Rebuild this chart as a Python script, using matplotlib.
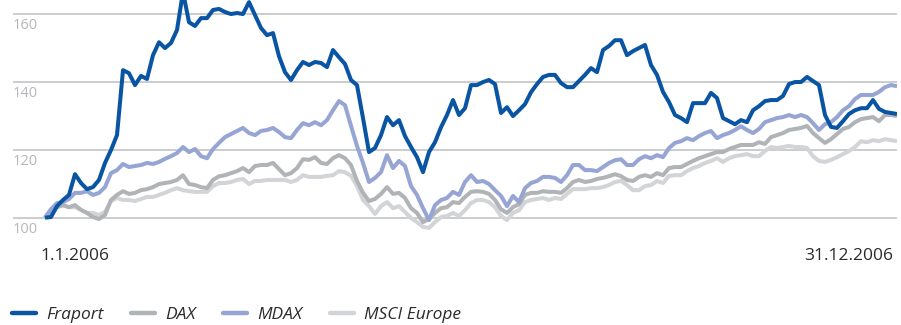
import numpy as np
import matplotlib
matplotlib.use("Agg")
import matplotlib.pyplot as plt
from matplotlib.lines import Line2D

plt.rcParams['font.family'] = ['Open Sans', 'DejaVu Sans']

# Index values (1.1.2006 = 100), sampled at regular intervals through 2006
fraport = [
    100.0, 100.2, 103.4, 105.2, 106.7, 112.8, 110.2, 108.4, 109.0, 111.1,
    116.1, 119.9, 124.3, 143.4, 142.5, 139.0, 141.7, 140.8, 147.8, 151.6,
    149.9, 151.4, 155.2, 166.4, 157.5, 156.4, 158.7, 158.7, 161.1, 161.4,
    160.5, 159.9, 160.2, 159.9, 163.4, 159.6, 155.8, 153.7, 154.3, 147.5,
    142.8, 140.5, 143.4, 145.8, 144.9, 145.8, 145.5, 144.3, 149.3, 147.2,
    145.2, 140.5, 139.0, 129.3, 119.3, 120.5, 124.3, 129.6, 127.2, 128.7,
    124.0, 120.8, 117.8, 113.4, 119.3, 122.2, 126.6, 130.2, 134.6, 130.2,
    132.2, 139.0, 139.0, 139.9, 140.5, 139.3, 130.8, 132.5, 129.9, 131.6,
    133.4, 136.9, 139.3, 141.4, 142.0, 142.0, 139.6, 138.4, 138.4, 140.2,
    142.0, 144.0, 142.8, 149.3, 150.5, 152.2, 152.2, 147.8, 149.0, 149.9,
    150.8, 144.9, 142.0, 137.0, 134.0, 130.2, 129.3, 128.1, 133.7, 133.7,
    133.7, 136.7, 135.2, 129.3, 128.4, 127.5, 128.7, 128.1, 131.6, 132.8,
    134.3, 134.6, 134.6, 135.8, 139.3, 139.9, 139.9, 141.4, 140.2, 139.0,
    130.2, 126.7, 126.4, 128.4, 130.5, 131.6, 132.2, 132.2, 134.6, 132.0,
    131.1, 130.8, 130.5,
]
dax = [
    100.0, 102.3, 103.1, 103.7, 103.1, 103.7, 102.3, 101.4, 100.2, 99.6,
    100.8, 105.2, 106.7, 107.8, 107.0, 107.3, 108.1, 108.4, 109.0, 109.9,
    110.2, 110.5, 111.1, 112.5, 109.9, 109.6, 109.0, 108.7, 111.1, 112.2,
    112.5, 113.1, 113.7, 114.6, 113.4, 115.2, 115.5, 115.5, 116.1, 114.3,
    112.5, 113.1, 114.6, 117.2, 117.0, 117.8, 116.1, 115.8, 117.5, 118.4,
    117.5, 115.5, 110.8, 107.3, 104.9, 105.5, 107.0, 109.0, 107.0, 107.3,
    105.8, 102.8, 101.4, 98.7, 99.6, 101.4, 102.8, 103.1, 104.6, 104.3,
    106.1, 107.6, 107.8, 107.6, 107.0, 105.2, 102.5, 101.4, 103.1, 104.0,
    106.7, 107.3, 107.3, 107.8, 107.6, 107.6, 107.3, 108.7, 110.5, 111.1,
    110.5, 110.8, 111.4, 111.7, 112.2, 112.8, 112.2, 111.1, 110.8, 112.0,
    112.5, 112.0, 113.1, 112.5, 114.6, 114.9, 114.9, 115.8, 116.7, 117.5,
    118.1, 118.7, 119.3, 119.3, 120.2, 120.8, 121.4, 121.4, 121.4, 122.2,
    121.7, 123.7, 124.3, 124.9, 125.8, 126.1, 126.4, 127.0, 124.9, 123.4,
    122.0, 123.1, 124.6, 126.1, 126.7, 128.1, 129.0, 129.3, 129.6, 128.4,
    130.2, 130.2, 129.9,
]
mdax = [
    100.0, 102.5, 104.3, 104.6, 105.5, 107.3, 107.3, 107.8, 106.7, 107.3,
    109.0, 113.1, 114.0, 115.8, 114.9, 115.2, 115.5, 116.1, 115.8, 116.4,
    117.3, 118.1, 119.0, 120.8, 119.3, 120.2, 118.1, 117.5, 120.2, 122.0,
    123.7, 124.6, 125.5, 126.4, 124.9, 124.3, 125.5, 125.8, 126.4, 125.2,
    123.7, 123.4, 125.8, 127.8, 127.2, 128.1, 127.2, 128.7, 131.6, 134.3,
    133.1, 127.0, 121.1, 116.1, 110.5, 111.7, 113.4, 118.4, 114.6, 116.7,
    115.2, 109.3, 106.7, 102.8, 99.3, 103.7, 105.2, 105.8, 107.6, 106.7,
    110.5, 112.5, 110.5, 110.8, 109.9, 108.1, 106.4, 103.4, 106.4, 104.6,
    108.7, 110.2, 110.8, 112.0, 112.0, 111.7, 110.5, 112.5, 115.5, 115.5,
    114.0, 114.0, 113.7, 114.9, 116.1, 116.9, 117.2, 115.5, 115.5, 117.2,
    118.1, 117.5, 118.4, 117.8, 120.5, 122.0, 122.5, 123.4, 122.8, 124.0,
    124.9, 125.5, 123.4, 124.3, 124.9, 125.8, 126.9, 125.8, 124.9, 126.1,
    128.1, 128.7, 129.3, 129.6, 130.2, 129.6, 130.2, 129.6, 127.8, 125.8,
    127.5, 128.1, 129.6, 131.6, 132.8, 134.9, 136.1, 136.1, 136.1, 137.0,
    138.4, 139.0, 138.7,
]
msci_europe = [
    100.0, 101.7, 103.1, 103.7, 103.1, 103.1, 102.3, 101.4, 101.4, 100.8,
    101.7, 104.9, 105.8, 105.2, 105.2, 104.9, 105.5, 106.1, 106.1, 106.7,
    107.3, 108.1, 108.7, 108.1, 107.8, 107.6, 107.6, 107.6, 109.3, 110.2,
    110.2, 110.5, 111.1, 111.4, 109.9, 110.8, 110.8, 111.1, 111.1, 111.1,
    111.1, 110.5, 111.1, 112.5, 112.0, 112.0, 112.0, 112.3, 112.5, 113.7,
    113.4, 112.3, 109.3, 105.2, 103.4, 101.1, 103.4, 104.6, 102.8, 103.4,
    101.7, 99.9, 98.7, 97.3, 97.0, 98.7, 100.2, 100.5, 101.4, 100.5,
    102.2, 104.3, 105.2, 105.2, 104.6, 103.1, 100.5, 99.3, 101.4, 102.2,
    104.6, 105.2, 105.5, 105.8, 105.2, 105.8, 105.5, 107.0, 108.4, 108.4,
    108.4, 108.7, 108.7, 109.0, 109.6, 110.5, 110.8, 109.6, 108.1, 108.1,
    109.3, 109.6, 110.8, 110.2, 112.3, 112.5, 112.5, 113.7, 114.6, 115.2,
    116.1, 116.7, 117.5, 116.4, 117.5, 118.1, 118.4, 118.7, 118.1, 118.1,
    119.6, 120.8, 120.5, 120.8, 121.1, 120.8, 120.8, 120.5, 118.1, 116.7,
    116.4, 117.0, 117.8, 118.7, 119.6, 120.8, 122.5, 122.2, 122.8, 122.5,
    123.1, 122.8, 122.5,
]

series_names = ['Fraport', 'DAX', 'MDAX', 'MSCI Europe']
series_colors = ['#0a55a3', '#b1b4b7', '#97a5d5', '#d2d4d7']
grid_values = [100, 120, 140, 160]
start_label = '1.1.2006'
end_label = '31.12.2006'

x = np.arange(len(fraport))
n = len(fraport) - 1

fig = plt.figure(figsize=(9.01, 3.25), dpi=100)
ax = fig.add_axes([13 / 901, 90 / 325, 884 / 901, 235 / 325])

# grid lines
for g in grid_values:
    ax.axhline(g, color='#c6c8ca', linewidth=1.3, zorder=1)
    ax.annotate(str(g), xy=(0, g), xycoords=('axes fraction', 'data'),
                xytext=(0, -8.6), textcoords='offset points',
                ha='left', va='center', fontsize=10.5, color='#b5b7ba')

lw = 2.9
data = [fraport, dax, mdax, msci_europe]
order = [3, 1, 2, 0]  # draw Fraport last (on top)
for z, i in enumerate(order):
    ax.plot(x, data[i], color=series_colors[i], linewidth=lw,
            solid_joinstyle='round', solid_capstyle='butt', zorder=2 + z)

ax.set_xlim(-32 / 852 * n, n)
ax.set_ylim(164.03 - 235 / 3.4, 164.03)
ax.axis('off')

fig.text(40 / 901, 1 - 256 / 325, start_label, ha='left', va='center',
         fontsize=12.5, color='#2b2b2b')
fig.text(893 / 901, 1 - 256 / 325, end_label, ha='right', va='center',
         fontsize=12.5, color='#2b2b2b')

handles = [Line2D([], [], color=c, linewidth=3.2, solid_capstyle='round')
           for c in series_colors]
leg = fig.legend(handles, series_names, loc='center left',
                 bbox_to_anchor=(12 / 901, 1 - 315 / 325), ncol=4,
                 frameon=False, borderpad=0, borderaxespad=0,
                 handlelength=1.4, handletextpad=0.55, columnspacing=1.6,
                 prop={'size': 12.5, 'style': 'italic'})
for t in leg.get_texts():
    t.set_color('#2b2b2b')

fig.savefig('out.png', dpi=100)
